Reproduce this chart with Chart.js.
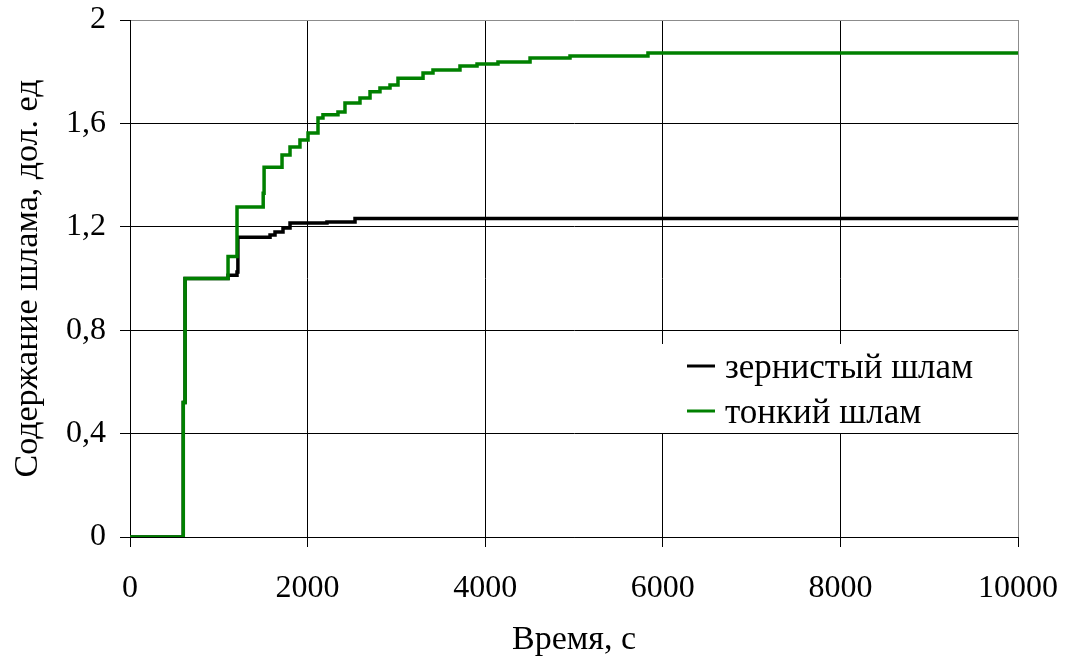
<!DOCTYPE html>
<html>
<head>
<meta charset="utf-8">
<script src="https://cdn.jsdelivr.net/npm/chart.js@4"></script>
<style>
    html, body { margin: 0; padding: 0; background: #fff; }
    #wrap { width: 1066px; height: 657px; }
</style>
</head>
<body>
<div id="wrap"><canvas id="chart" width="1066" height="657"></canvas></div>
<script>
// Зернистый шлам: время (с) и содержание
const grainTime  = [0, 600, 620, 1104, 1205, 1215, 1577, 1633, 1723, 1802, 2218, 2534, 10000];
const grainValue = [0, 0.52, 1.0, 1.013, 1.025, 1.16, 1.168, 1.18, 1.195, 1.215, 1.219, 1.232, 1.232];

// Тонкий шлам
const fineTime  = [0, 600, 620, 620, 1104, 1205, 1500, 1510, 1712, 1802, 1914, 2005, 2117, 2173, 2342, 2421,
                   2590, 2703, 2815, 2928, 3018, 3300, 3412, 3716, 3908, 4144, 4505, 4955, 5833, 10000];
const fineValue = [0, 0.52, 0.58, 1.0, 1.085, 1.277, 1.33, 1.43, 1.478, 1.509, 1.536, 1.563, 1.621, 1.633, 1.644, 1.679,
                   1.698, 1.722, 1.737, 1.749, 1.775, 1.795, 1.807, 1.822, 1.830, 1.838, 1.853, 1.861, 1.872, 1.872];

const xTicks = [0, 2000, 4000, 6000, 8000, 10000];
const yTicks = [0, 0.4, 0.8, 1.2, 1.6, 2];

const seriesNames = ['зернистый шлам', 'тонкий шлам'];
const seriesColors = ['#000000', '#008000'];

const toPoints = (xs, ys) => xs.map((x, i) => ({ x: x, y: ys[i] }));

const serif = '"Liberation Serif", "Times New Roman", serif';

// Легенда внутри области графика
const innerLegend = {
    id: 'innerLegend',
    afterDraw(chart) {
        const ctx = chart.ctx;
        const area = chart.chartArea;
        const left = area.left + 525;
        const top = area.top + 324;
        ctx.save();
        ctx.fillStyle = '#fff';
        ctx.fillRect(left, top, 357, 89);
        ctx.font = '35px ' + serif;
        ctx.textBaseline = 'alphabetic';
        chart.data.datasets.forEach((ds, i) => {
            const y = top + 22 + i * 45;
            ctx.strokeStyle = ds.borderColor;
            ctx.lineWidth = 3;
            ctx.beginPath();
            ctx.moveTo(left + 32, y);
            ctx.lineTo(left + 60, y);
            ctx.stroke();
            ctx.fillStyle = '#000';
            ctx.fillText(ds.label, left + 70, y + 12);
        });
        ctx.restore();
    }
};

new Chart(document.getElementById('chart').getContext('2d'), {
    type: 'line',
    data: {
        datasets: [
            {
                label: seriesNames[0],
                data: toPoints(grainTime, grainValue),
                borderColor: seriesColors[0],
                borderWidth: 3.5,
                pointRadius: 0,
                stepped: 'before',
                fill: false,
                order: 1
            },
            {
                label: seriesNames[1],
                data: toPoints(fineTime, fineValue),
                borderColor: seriesColors[1],
                borderWidth: 3.5,
                pointRadius: 0,
                stepped: 'before',
                fill: false,
                order: 0
            }
        ]
    },
    options: {
        responsive: false,
        animation: false,
        layout: { padding: { top: 20, right: 48, left: 0, bottom: 0 } },
        plugins: {
            legend: { display: false },
            tooltip: { enabled: false }
        },
        scales: {
            x: {
                type: 'linear',
                min: 0,
                max: 10000,
                afterBuildTicks: (scale) => { scale.ticks = xTicks.map(v => ({ value: v })); },
                afterFit: (scale) => {
                    scale.height = 120;
                    scale.paddingLeft = 0;
                    scale.paddingRight = 0;
                },
                ticks: {
                    color: '#000',
                    font: { family: serif, size: 32 },
                    padding: 22,
                    maxRotation: 0,
                    callback: (v) => String(v)
                },
                grid: {
                    color: (c) => c.tick && c.tick.value === 10000 ? '#8c8c8c' : '#000',
                    lineWidth: 1,
                    tickLength: 10,
                    tickColor: '#000'
                },
                border: { color: '#000', width: 1 },
                title: {
                    display: true,
                    text: 'Время, с',
                    color: '#000',
                    font: { family: serif, size: 34, lineHeight: 1 },
                    padding: { top: 0, bottom: 0 }
                }
            },
            y: {
                min: 0,
                max: 2,
                afterBuildTicks: (scale) => { scale.ticks = yTicks.map(v => ({ value: v })); },
                afterFit: (scale) => {
                    scale.width = 130;
                    scale.paddingTop = 0;
                    scale.paddingBottom = 0;
                },
                ticks: {
                    color: '#000',
                    font: { family: serif, size: 32 },
                    padding: 14,
                    callback: (v) => String(Math.round(v * 10) / 10).replace('.', ',')
                },
                grid: {
                    color: (c) => c.tick && c.tick.value === 2 ? '#8c8c8c' : '#000',
                    lineWidth: 1,
                    tickLength: 10,
                    tickColor: '#000'
                },
                border: { color: '#000', width: 1 },
                title: {
                    display: true,
                    text: 'Содержание шлама, дол. ед',
                    color: '#000',
                    font: { family: serif, size: 34, lineHeight: 1 },
                    padding: { top: 11, bottom: 0 }
                }
            }
        }
    },
    plugins: [innerLegend]
});
</script>
</body>
</html>
